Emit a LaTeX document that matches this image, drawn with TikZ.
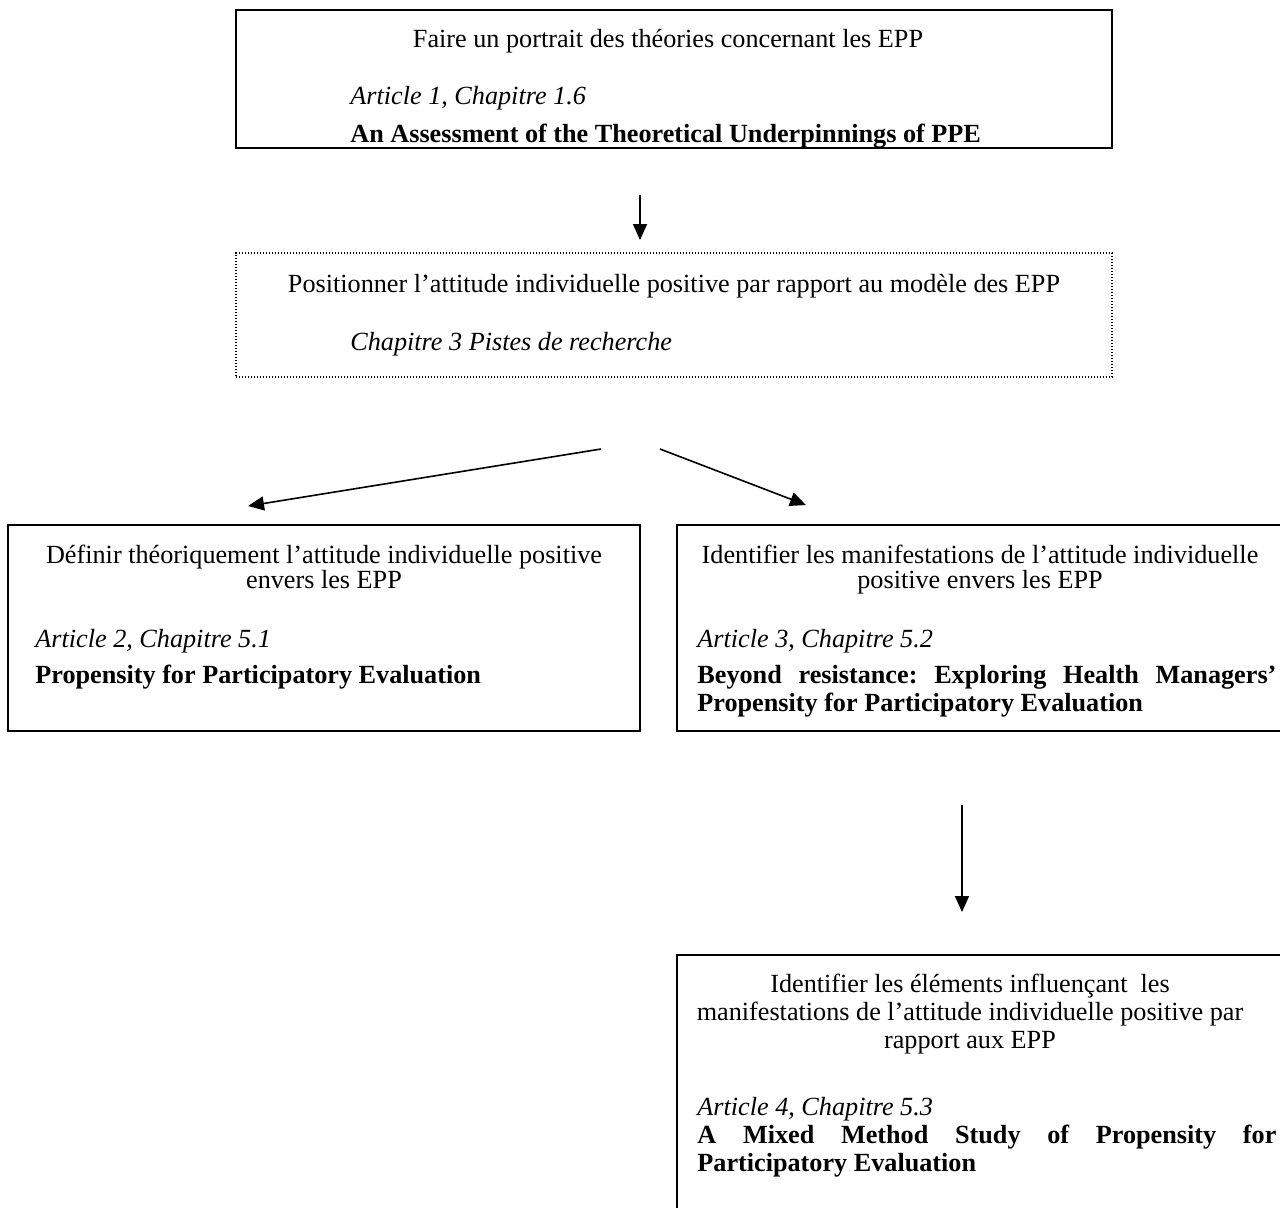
\documentclass[tikz,border=0pt]{standalone}
\usepackage{fontspec}
\setmainfont{Liberation Serif}
\usetikzlibrary{arrows.meta,fit}
\frenchspacing

\begin{document}
\begin{tikzpicture}[x=0.5pt,y=-0.5pt,
  box/.style={draw,line width=1pt,inner sep=0pt},
  dotbox/.style={draw,line width=0.8pt,dash pattern=on 0.6pt off 0.9pt,inner sep=0pt},
  txt/.style={inner sep=0pt,font=\fontsize{13.1}{14}\selectfont},
  mid/.style={txt,anchor=base,align=center},
  lft/.style={txt,anchor=base west},
  ttl/.style={txt,anchor=base west,text width=289.5pt,align=justify,
    font=\fontsize{13.1}{14}\selectfont\bfseries},
  flow/.style={-{Triangle[length=8pt,width=7pt]},line width=0.8pt}
]
\useasboundingbox (0,0) rectangle (1280,1207);

%% boxes
\node[box,fit={(236,10) (1112,148)}] (portrait) {};
\node[dotbox,fit={(236,253) (1112,377)}] (position) {};
\node[box,fit={(8,525) (640,731)}] (definir) {};
\node[box,fit={(677,525) (1300,731)}] (manif) {};
\node[box,fit={(677,955) (1300,1230)}] (influ) {};

%% texts
\node[mid] (portraitA) at (668,47) {Faire un portrait des théories concernant les EPP};
\node[lft] (portraitB) at (350,104) {\textit{Article 1}, \textit{Chapitre 1.6}};
\node[lft,font=\fontsize{13.1}{14}\selectfont\bfseries] (portraitC) at (350,142)
  {An Assessment of the Theoretical Underpinnings of PPE};

\node[mid] (positionA) at (674,292)
  {Positionner l'attitude individuelle positive par rapport au modèle des EPP};
\node[lft] (positionB) at (350,350) {\textit{Chapitre 3 Pistes de recherche}};

\node[mid,font=\fontsize{13.1}{12.5}\selectfont] (definirA) at (324,588)
  {Définir théoriquement l'attitude individuelle positive\\envers les EPP};
\node[lft] (definirB) at (35,647) {\textit{Article 2, Chapitre 5.1}};
\node[lft,font=\fontsize{13.1}{14}\selectfont\bfseries] (definirC) at (35,683)
  {Propensity for Participatory Evaluation};

\node[mid,font=\fontsize{13.1}{12.5}\selectfont] (manifA) at (980,588)
  {Identifier les manifestations de l'attitude individuelle\\positive envers les EPP};
\node[lft] (manifB) at (697,647) {\textit{Article 3}, \textit{Chapitre 5.2}};
\node[ttl] (manifC) at (697,683)
  {Beyond resistance: Exploring Health Managers'\linebreak Propensity for Participatory Evaluation};

\node[mid] (influA) at (970,1048)
  {Identifier les éléments influençant \ les\\manifestations de l'attitude individuelle positive par\\rapport aux EPP};
\node[lft] (influB) at (697,1115) {\textit{Article 4, Chapitre 5.3}};
\node[ttl] (influC) at (697,1143)
  {A Mixed Method Study of Propensity for\linebreak Participatory Evaluation};

%% arrows
\coordinate (s1) at (640,195);
\coordinate (e1) at (640,240);
\coordinate (s2) at (601,449);
\coordinate (e2) at (248,506);
\coordinate (s3) at (660,449);
\coordinate (e3) at (806,505);
\coordinate (s4) at (962,805);
\coordinate (e4) at (962,912);
\draw[flow] (s1) -- (e1);
\draw[flow] (s2) -- (e2);
\draw[flow] (s3) -- (e3);
\draw[flow] (s4) -- (e4);
\end{tikzpicture}
\end{document}
